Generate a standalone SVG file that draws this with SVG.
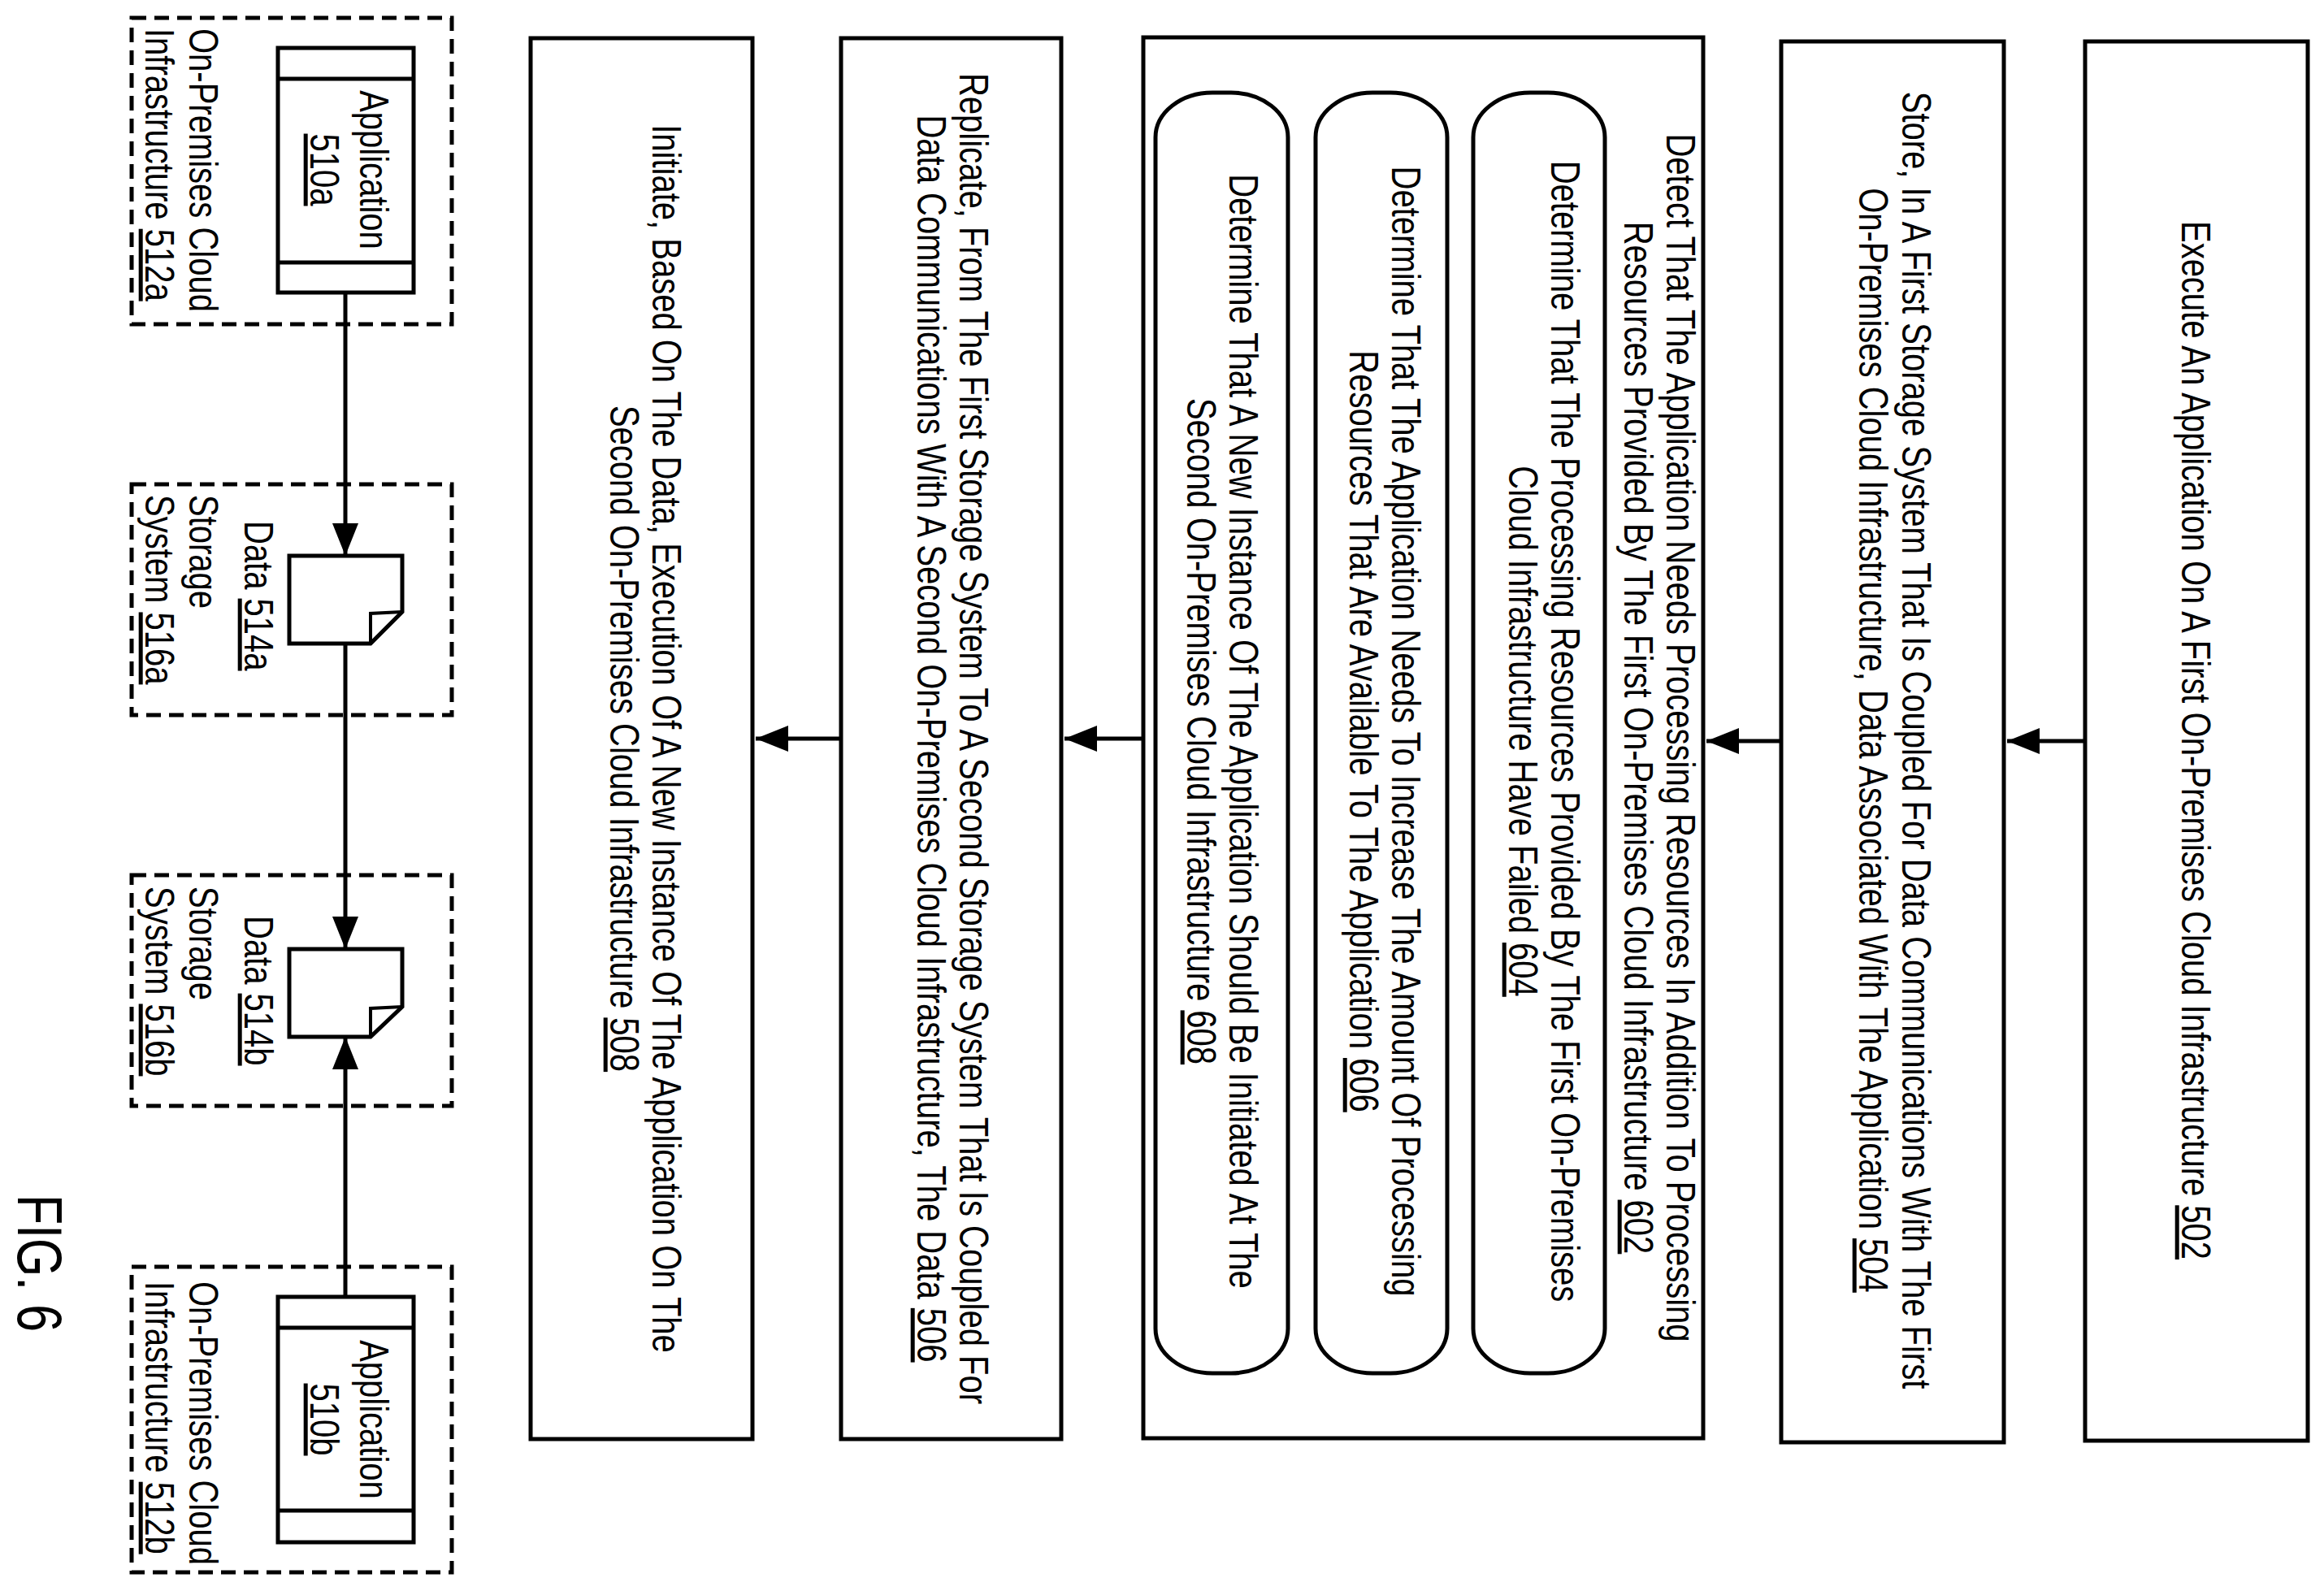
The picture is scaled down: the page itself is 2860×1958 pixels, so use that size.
<svg xmlns="http://www.w3.org/2000/svg" width="2860" height="1958" viewBox="0 0 2860 1958">
<style>
.b{fill:#fff;stroke:#000;stroke-width:5}
.d{fill:none;stroke:#000;stroke-width:5;stroke-dasharray:18 10}
.c{fill:none;stroke:#000;stroke-width:4}
text{font-family:"Liberation Sans",Arial,sans-serif;font-size:50px;fill:#000}
.m{text-anchor:middle}
.u{text-decoration:underline}
</style>
<defs>
<marker id="ah" markerUnits="userSpaceOnUse" markerWidth="42" markerHeight="32" refX="40" refY="16" orient="auto">
<path d="M0,0 L40,16 L0,32 Z" fill="#000"/>
</marker>
</defs>
<rect width="2860" height="1958" fill="#fff"/>
<g id="n502"><rect class="b" x="2566" y="51" width="274" height="1722"/>
<text class="m" transform="translate(2685,911) rotate(90) scale(0.8,1)">Execute An Application On A First On-Premises Cloud Infrastructure  <tspan class="u">502</tspan></text></g>
<g id="n504"><rect class="b" x="2192" y="51" width="274" height="1724"/>
<text class="m" transform="translate(2341,911) rotate(90) scale(0.8,1)">Store, In A First Storage System That Is Coupled For Data Communications With The First</text>
<text class="m" transform="translate(2288,911) rotate(90) scale(0.8,1)">On-Premises Cloud Infrastructure, Data Associated With The Application  <tspan class="u">504</tspan></text></g>
<g id="n602"><rect class="b" x="1407" y="46" width="689" height="1724"/>
<text class="m" transform="translate(2051,908) rotate(90) scale(0.8,1)">Detect That The Application Needs Processing Resources In Addition To Processing</text>
<text class="m" transform="translate(1999,908) rotate(90) scale(0.8,1)">Resources Provided By The First On-Premises Cloud Infrastructure  <tspan class="u">602</tspan></text></g>
<g id="n604"><rect class="b" x="1813" y="114" width="162" height="1576" rx="70" ry="55"/>
<text class="m" transform="translate(1909,900) rotate(90) scale(0.8,1)">Determine That The Processing Resources Provided By The First On-Premises</text>
<text class="m" transform="translate(1857,900) rotate(90) scale(0.8,1)">Cloud Infrastructure Have Failed  <tspan class="u">604</tspan></text></g>
<g id="n606"><rect class="b" x="1619" y="114" width="162" height="1576" rx="70" ry="55"/>
<text class="m" transform="translate(1713,900) rotate(90) scale(0.8,1)">Determine That The Application Needs To Increase The Amount Of Processing</text>
<text class="m" transform="translate(1661,900) rotate(90) scale(0.8,1)">Resources That Are Available To The Application  <tspan class="u">606</tspan></text></g>
<g id="n608"><rect class="b" x="1422" y="114" width="163" height="1576" rx="70" ry="55"/>
<text class="m" transform="translate(1513,900) rotate(90) scale(0.8,1)">Determine That A New Instance Of The Application Should Be Initiated At The</text>
<text class="m" transform="translate(1461,900) rotate(90) scale(0.8,1)">Second On-Premises Cloud Infrastructure  <tspan class="u">608</tspan></text></g>
<g id="n506"><rect class="b" x="1035" y="47" width="271" height="1724"/>
<text class="m" transform="translate(1181,909) rotate(90) scale(0.8,1)">Replicate, From The First Storage System To A Second Storage System That Is Coupled For</text>
<text class="m" transform="translate(1129,909) rotate(90) scale(0.8,1)">Data Communications With A Second On-Premises Cloud Infrastructure, The Data  <tspan class="u">506</tspan></text></g>
<g id="n508"><rect class="b" x="653" y="47" width="273" height="1724"/>
<text class="m" transform="translate(803,909) rotate(90) scale(0.8,1)">Initiate, Based On The Data, Execution Of A New Instance Of The Application On The</text>
<text class="m" transform="translate(751,909) rotate(90) scale(0.8,1)">Second On-Premises Cloud Infrastructure  <tspan class="u">508</tspan></text></g>
<g id="n512a"><rect class="d" x="162" y="22" width="394" height="377"/>
<text transform="translate(233,35) rotate(90) scale(0.8,1)">On-Premises Cloud</text>
<text transform="translate(179,35) rotate(90) scale(0.8,1)">Infrastructure  <tspan class="u">512a</tspan></text></g>
<g id="n510a"><rect class="b" x="342" y="59" width="167" height="301"/>
<line class="b" x1="342" y1="97" x2="509" y2="97"/><line class="b" x1="342" y1="323" x2="509" y2="323"/>
<text class="m" transform="translate(443,209) rotate(90) scale(0.8,1)">Application</text>
<text class="m u" transform="translate(382,209) rotate(90) scale(0.8,1)">510a</text></g>
<g id="n516a"><rect class="d" x="162" y="596" width="394" height="284"/>
<text transform="translate(233,609) rotate(90) scale(0.8,1)">Storage</text>
<text transform="translate(179,609) rotate(90) scale(0.8,1)">System  <tspan class="u">516a</tspan></text></g>
<g id="n514a"><path class="b" d="M356,684 H495 V753 L456,792 H356 Z"/><polyline class="c" points="495,753 456,755 456,792"/>
<text transform="translate(301,641) rotate(90) scale(0.8,1)">Data  <tspan class="u">514a</tspan></text></g>
<g id="n516b"><rect class="d" x="162" y="1077" width="394" height="284"/>
<text transform="translate(233,1091) rotate(90) scale(0.8,1)">Storage</text>
<text transform="translate(179,1091) rotate(90) scale(0.8,1)">System  <tspan class="u">516b</tspan></text></g>
<g id="n514b"><path class="b" d="M356,1168 H495 V1239 L456,1276 H356 Z"/><polyline class="c" points="495,1239 456,1241 456,1276"/>
<text transform="translate(301,1127) rotate(90) scale(0.8,1)">Data  <tspan class="u">514b</tspan></text></g>
<g id="n512b"><rect class="d" x="162" y="1559" width="394" height="376"/>
<text transform="translate(233,1577) rotate(90) scale(0.8,1)">On-Premises Cloud</text>
<text transform="translate(179,1577) rotate(90) scale(0.8,1)">Infrastructure  <tspan class="u">512b</tspan></text></g>
<g id="n510b"><rect class="b" x="342" y="1596" width="167" height="302"/>
<line class="b" x1="342" y1="1634" x2="509" y2="1634"/><line class="b" x1="342" y1="1859" x2="509" y2="1859"/>
<text class="m" transform="translate(443,1747) rotate(90) scale(0.8,1)">Application</text>
<text class="m u" transform="translate(382,1747) rotate(90) scale(0.8,1)">510b</text></g>
<text id="fig" transform="translate(22,1470) rotate(90) scale(0.78,1)" style="font-size:78px">FIG. 6</text>
<g id="connectors" fill="none" stroke="#000" stroke-width="5">
<line x1="2566" y1="912" x2="2470" y2="912" marker-end="url(#ah)"/>
<line x1="2192" y1="912" x2="2100" y2="912" marker-end="url(#ah)"/>
<line x1="1407" y1="909" x2="1310" y2="909" marker-end="url(#ah)"/>
<line x1="1035" y1="909" x2="930" y2="909" marker-end="url(#ah)"/>
<line x1="425" y1="360" x2="425" y2="684" marker-end="url(#ah)"/>
<line x1="425" y1="792" x2="425" y2="1168" marker-end="url(#ah)"/>
<line x1="425" y1="1596" x2="425" y2="1276" marker-end="url(#ah)"/>
</g>
</svg>
